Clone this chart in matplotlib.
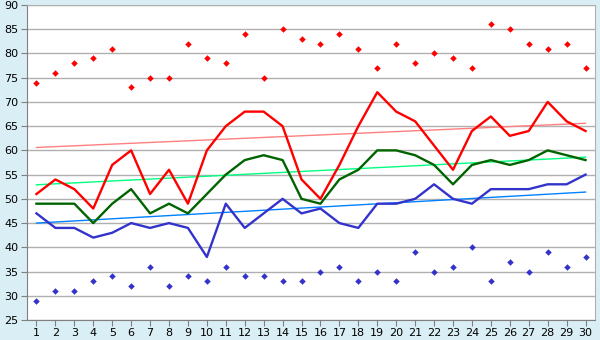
import numpy as np
import matplotlib
matplotlib.use("Agg")
import matplotlib.pyplot as plt

days = list(range(1, 31))
record_high = [74, 76, 78, 79, 81, 73, 75, 75, 82, 79, 78, 84, 75, 85, 83,
               82, 84, 81, 77, 82, 78, 80, 79, 77, 86, 85, 82, 81, 82, 77]
high = [51, 54, 52, 48, 57, 60, 51, 56, 49, 60, 65, 68, 68, 65, 54,
        50, 57, 65, 72, 68, 66, 61, 56, 64, 67, 63, 64, 70, 66, 64]
mean = [49, 49, 49, 45, 49, 52, 47, 49, 47, 51, 55, 58, 59, 58, 50,
        49, 54, 56, 60, 60, 59, 57, 53, 57, 58, 57, 58, 60, 59, 58]
low = [47, 44, 44, 42, 43, 45, 44, 45, 44, 38, 49, 44, 47, 50, 47,
       48, 45, 44, 49, 49, 50, 53, 50, 49, 52, 52, 52, 53, 53, 55]
record_low = [29, 31, 31, 33, 34, 32, 36, 32, 34, 33, 36, 34, 34, 33, 33,
              35, 36, 33, 35, 33, 39, 35, 36, 40, 33, 37, 35, 39, 36, 38]

# normals: straight lines from the first to the last day of the month
normal_days = [1, 30]
normal_high = [60.6, 65.6]
normal_mean = [52.9, 58.6]
normal_low = [45.0, 51.4]

y_ticks = list(range(25, 95, 5))

bg = "#d9eef5"
fig = plt.figure(figsize=(6, 3.4), dpi=100, facecolor=bg)
ax = fig.add_axes([27 / 600, 1 - 320 / 340, 568 / 600, 315 / 340])
ax.set_facecolor("white")

ax.plot(normal_days, normal_high, color="#ff8080", lw=1.0, zorder=2)
ax.plot(normal_days, normal_mean, color="#00ff80", lw=1.0, zorder=2)
ax.plot(normal_days, normal_low, color="#0080ff", lw=1.0, zorder=2)

ax.plot(days, low, color="#3333cc", lw=1.7, zorder=3)
ax.plot(days, mean, color="#006400", lw=1.7, zorder=3)
ax.plot(days, high, color="#ff0000", lw=1.7, zorder=4)

ax.scatter(days, record_high, marker="D", s=11, color="#ff0000", zorder=5, linewidths=0)
ax.scatter(days, record_low, marker="D", s=11, color="#3333cc", zorder=5, linewidths=0)

ax.set_xlim(0.5, 30.5)
ax.set_ylim(25, 90)
ax.set_yticks(y_ticks)
ax.set_xticks(days)
ax.grid(axis="y", color="#b0b0b0", lw=1.0)
ax.set_axisbelow(True)

for side in ("top", "right"):
    ax.spines[side].set_color("#b0b0b0")
for side in ("left", "bottom"):
    ax.spines[side].set_color("#808080")
ax.tick_params(axis="both", labelsize=8, length=4, color="#808080", pad=2)

fig.savefig("out.png", dpi=100, facecolor=bg)
